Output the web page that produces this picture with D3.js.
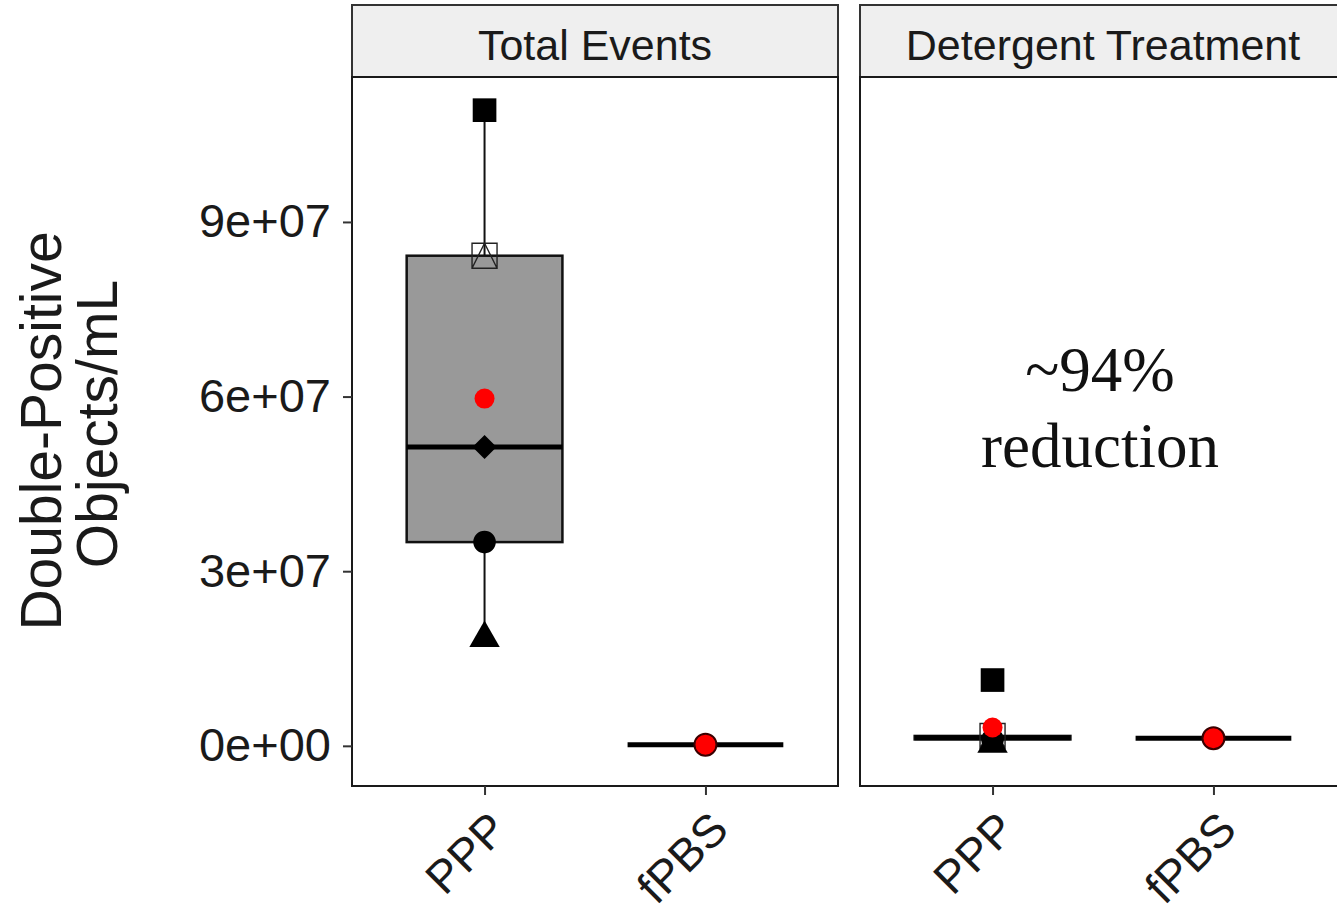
<!DOCTYPE html>
<html>
<head>
  <meta charset="UTF-8">
  <style>
    body {
      margin: 0;
      padding: 0;
      background-color: #ffffff;
    }
    svg {
      display: block;
      font-family: "Liberation Sans", Arial, sans-serif;
    }
    .tick text {
      fill: #1a1a1a;
    }
  </style>
</head>
<body>
  <svg></svg>
  <script src="https://d3js.org/d3.v7.min.js"></script>

  <script>
  let width = 1337, height = 912;

  // facets and groups
  const facets = ["Total Events", "Detergent Treatment"];
  const groups = ["PPP", "fPBS"];

  // one shape per donor, same order as the values below
  const pointShapes = ["square", "squareTriangle", "diamond", "circle", "triangle"];

  // values (objects / mL)
  const totalPPP = [109.2e6, 84.2e6, 51.35e6, 35.0e6, 18.5e6];
  const totalFPBS = [0.2e6];
  const detergentPPP = [11.3e6, 1.7e6, 1.37e6, 1.1e6, 0.3e6];
  const detergentFPBS = [1.3e6];

  const yTicks = [0, 3e7, 6e7, 9e7];
  const yTickLabels = ["0e+00", "3e+07", "6e+07", "9e+07"];
  const yTitle = ["Double-Positive", "Objects/mL"];
  const note = ["~94%", "reduction"];

  const facetData = [
    {PPP: totalPPP, fPBS: totalFPBS},
    {PPP: detergentPPP, fPBS: detergentFPBS}
  ];

  let svg = d3.select("svg")
      .attr("width", width)
      .attr("height", height);

  const panelTop = 77, panelBottom = 786, panelW = 486;
  const panelLeft = [352, 860];
  const stripTop = 5;

  let y = d3.scaleLinear()
      .domain([-6.9e6, 114.9e6])
      .range([panelBottom, panelTop]);

  let x = d3.scalePoint()
      .domain(groups)
      .range([0, panelW])
      .padding(0.6);

  const boxW = x.step() * 0.705;

  function boxStats(vals) {
      let s = vals.slice().sort(d3.ascending);
      let q1 = d3.quantile(s, 0.25), med = d3.quantile(s, 0.5), q3 = d3.quantile(s, 0.75);
      let iqr = q3 - q1;
      let inside = s.filter(v => v >= q1 - 1.5 * iqr && v <= q3 + 1.5 * iqr);
      return {
          q1: q1, med: med, q3: q3,
          lo: d3.min(inside), hi: d3.max(inside),
          out: s.filter(v => v < q1 - 1.5 * iqr || v > q3 + 1.5 * iqr),
          mean: d3.mean(s)
      };
  }

  function shapePath(kind) {
      if (kind === "square") return d3.symbol(d3.symbolSquare, 560)();
      if (kind === "diamond") return d3.symbol(d3.symbolSquare, 290)();
      if (kind === "circle") return d3.symbol(d3.symbolCircle, 400)();
      if (kind === "triangle") return d3.symbol(d3.symbolTriangle, 400)();
      let h = 12.5;
      return `M${-h},${-h}H${h}V${h}H${-h}Z M${-h},${h}L0,${-h}L${h},${h}`;
  }

  facets.forEach((name, fi) => {
      let g = svg.append("g")
          .attr("transform", `translate(${panelLeft[fi]},0)`);

      // strip
      g.append("rect")
          .attr("x", 0)
          .attr("y", stripTop)
          .attr("width", panelW)
          .attr("height", panelTop - stripTop)
          .attr("fill", "#efefef")
          .attr("stroke", "#333")
          .attr("stroke-width", 2);

      g.append("text")
          .attr("x", panelW / 2)
          .attr("y", 60)
          .attr("text-anchor", "middle")
          .attr("font-size", 43)
          .attr("fill", "#1a1a1a")
          .text(name);

      // boxes
      groups.forEach(grp => {
          let vals = facetData[fi][grp];
          let st = boxStats(vals);
          let cx = x(grp);

          g.append("line")
              .attr("x1", cx).attr("x2", cx)
              .attr("y1", y(st.hi)).attr("y2", y(st.q3))
              .attr("stroke", "#111").attr("stroke-width", 2);
          g.append("line")
              .attr("x1", cx).attr("x2", cx)
              .attr("y1", y(st.q1)).attr("y2", y(st.lo))
              .attr("stroke", "#111").attr("stroke-width", 2);

          g.append("rect")
              .attr("x", cx - boxW / 2)
              .attr("y", y(st.q3))
              .attr("width", boxW)
              .attr("height", y(st.q1) - y(st.q3))
              .attr("fill", "#999999")
              .attr("stroke", "#111")
              .attr("stroke-width", 2.5);

          g.append("line")
              .attr("x1", cx - boxW / 2).attr("x2", cx + boxW / 2)
              .attr("y1", y(st.med)).attr("y2", y(st.med))
              .attr("stroke", "#000").attr("stroke-width", 5);

          g.selectAll(null)
              .data(st.out)
              .enter()
              .append("circle")
              .attr("cx", cx)
              .attr("cy", d => y(d))
              .attr("r", 3)
              .attr("fill", "#000");

          if (grp === "PPP") {
              g.selectAll(null)
                  .data(vals)
                  .enter()
                  .append("path")
                  .attr("d", (d, i) => shapePath(pointShapes[i]))
                  .attr("transform", (d, i) => `translate(${cx},${y(d)})` + (pointShapes[i] === "diamond" ? " rotate(45)" : ""))
                  .attr("fill", (d, i) => pointShapes[i] === "squareTriangle" ? "none" : "#000")
                  .attr("stroke", (d, i) => pointShapes[i] === "squareTriangle" ? "#222" : "none")
                  .attr("stroke-width", 1.4);

              g.append("circle")
                  .attr("cx", cx)
                  .attr("cy", y(st.mean))
                  .attr("r", 10)
                  .attr("fill", "#ff0000");
          } else {
              g.append("circle")
                  .attr("cx", cx)
                  .attr("cy", y(st.mean))
                  .attr("r", 11)
                  .attr("fill", "#ff0000")
                  .attr("stroke", "#3a0000")
                  .attr("stroke-width", 2);
          }
      });

      // panel border
      g.append("rect")
          .attr("x", 0)
          .attr("y", panelTop)
          .attr("width", panelW)
          .attr("height", panelBottom - panelTop)
          .attr("fill", "none")
          .attr("stroke", "#1a1a1a")
          .attr("stroke-width", 2);

      // x axis
      let xa = g.append("g")
          .attr("transform", `translate(0,${panelBottom})`)
          .call(d3.axisBottom(x).tickSize(9).tickSizeOuter(0));
      xa.select(".domain").remove();
      xa.selectAll(".tick line").attr("stroke", "#333").attr("stroke-width", 2);
      xa.selectAll(".tick text")
          .attr("font-size", 46)
          .attr("text-anchor", "end")
          .attr("dy", "0.7em")
          .attr("transform", "translate(2,23) rotate(-45)")
          .attr("x", 0)
          .attr("y", 0);

      if (fi === 0) {
          let ya = g.append("g")
              .call(d3.axisLeft(y).tickValues(yTicks).tickFormat((d, i) => yTickLabels[i]).tickSize(9).tickPadding(12));
          ya.select(".domain").remove();
          ya.selectAll(".tick line").attr("stroke", "#333").attr("stroke-width", 2);
          ya.selectAll(".tick text").attr("font-size", 47);
      }
  });

  // y axis title
  svg.append("text")
      .attr("transform", "translate(61,431) rotate(-90)")
      .attr("text-anchor", "middle")
      .attr("font-size", 57)
      .attr("fill", "#1a1a1a")
      .text(yTitle[0]);
  svg.append("text")
      .attr("transform", "translate(117,424) rotate(-90)")
      .attr("text-anchor", "middle")
      .attr("font-size", 57)
      .attr("fill", "#1a1a1a")
      .text(yTitle[1]);

  // annotation
  svg.selectAll(".note")
      .data(note)
      .enter()
      .append("text")
      .attr("class", "note")
      .attr("x", 1100)
      .attr("y", (d, i) => 391 + i * 76)
      .attr("text-anchor", "middle")
      .attr("font-family", "'Liberation Serif', 'DejaVu Serif', serif")
      .attr("font-size", 63)
      .attr("fill", "#111")
      .text(d => d);
  </script>

</body>
</html>
